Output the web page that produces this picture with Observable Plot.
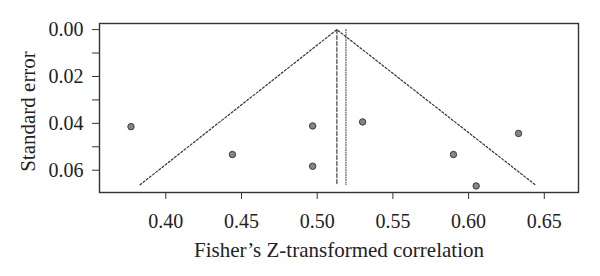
<!DOCTYPE html>
<html><head><meta charset="utf-8">
<script src="https://cdn.jsdelivr.net/npm/d3@7"></script>
<script src="https://cdn.jsdelivr.net/npm/@observablehq/plot@0.6"></script>
<style>body{margin:0;background:#fff}</style>
</head><body><div id="chart"></div>
<script>
// Study points
const zValues = [0.377, 0.444, 0.497, 0.497, 0.530, 0.590, 0.605, 0.633];
const seValues = [0.0414, 0.0533, 0.0411, 0.0583, 0.0394, 0.0533, 0.0667, 0.0443];
// Funnel (pseudo 95% limits)
const funnelX = [0.383, 0.513, 0.644];
const funnelY = [0.0662, 0.0, 0.0662];
// Reference lines
const dashedX = 0.513;
const dottedX = 0.519;
const refTop = 0.0;
const refBottom = 0.0662;
// Ticks
const xTicks = [0.40, 0.45, 0.50, 0.55, 0.60, 0.65];
const yTicks = [0.00, 0.02, 0.04, 0.06];
const yMinorTicks = [0.01, 0.03, 0.05];
const xTitle = "Fisher\u2019s Z-transformed correlation";
const yTitle = "Standard error";

const points = zValues.map((z, i) => ({z, se: seValues[i]}));
const funnel = funnelX.map((x, i) => ({x, y: funnelY[i]}));
const font = "'Liberation Serif', 'DejaVu Serif', serif";

const chart = Plot.plot({
  width: 600, height: 276,
  marginLeft: 99, marginRight: 22, marginTop: 23, marginBottom: 84,
  style: {fontFamily: font, fontSize: "20px", color: "#222", background: "#fff"},
  x: {domain: [0.3562, 0.6726]},
  y: {domain: [-0.0026, 0.0695], reverse: true},
  marks: [
    Plot.frame({stroke: "#333", strokeWidth: 1.4}),
    Plot.axisX({ticks: xTicks, tickSize: 7, tickPadding: 14, tickFormat: d3.format(".2f"), label: null, fontSize: 20, stroke: "#333"}),
    Plot.axisY({ticks: yTicks, tickSize: 7, tickPadding: 9, tickFormat: d3.format(".2f"), label: null, fontSize: 20, stroke: "#333"}),
    Plot.axisY({ticks: yMinorTicks, tickSize: 7, text: null, label: null, stroke: "#333"}),
    Plot.line(funnel, {x: "x", y: "y", stroke: "#333", strokeWidth: 1.2, strokeDasharray: "2,2"}),
    Plot.line([{x: dashedX, y: refTop}, {x: dashedX, y: refBottom}], {x: "x", y: "y", stroke: "#333", strokeWidth: 1.1, strokeDasharray: "4,2"}),
    Plot.line([{x: dottedX, y: refTop}, {x: dottedX, y: refBottom}], {x: "x", y: "y", stroke: "#333", strokeWidth: 1, strokeDasharray: "1,1.5"}),
    Plot.dot(points, {x: "z", y: "se", r: 3.2, fill: "#858585", stroke: "#3a3a3a", strokeWidth: 1}),
    Plot.text([xTitle], {text: d => d, frameAnchor: "bottom", dy: 64, fontSize: 21, fill: "#222"}),
    Plot.text([yTitle], {text: d => d, frameAnchor: "left", textAnchor: "middle", dx: -71, dy: 3.5, rotate: -90, fontSize: 21, fill: "#222"})
  ]
});
document.getElementById("chart").appendChild(chart);
</script>
</body></html>
